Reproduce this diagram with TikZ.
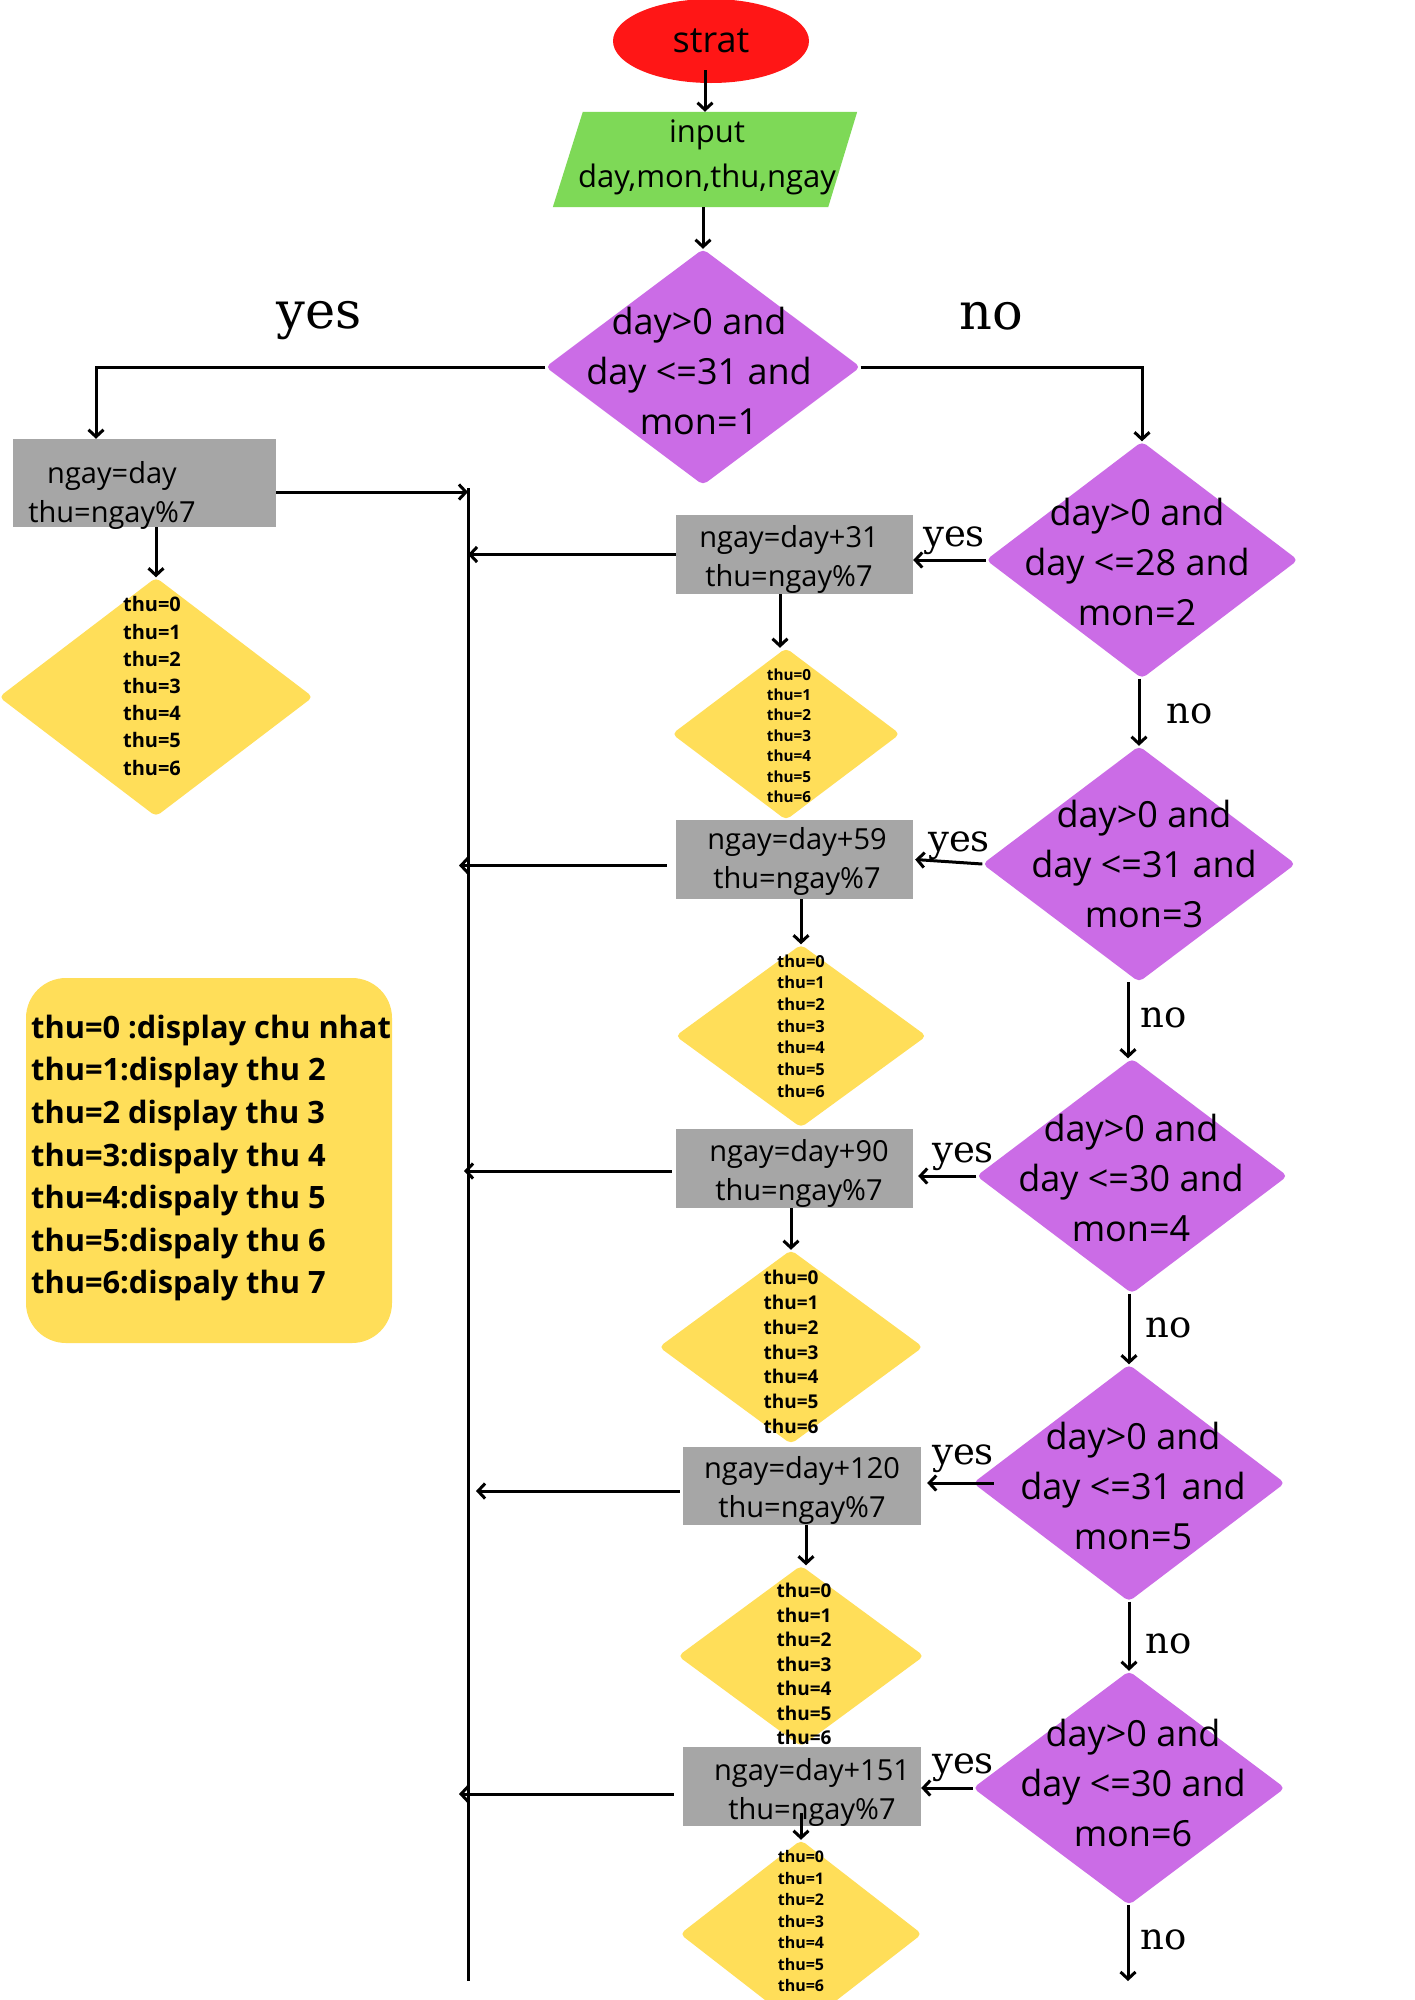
\documentclass[tikz,border=0pt]{standalone}
\usepackage{fontspec}
\setmainfont{Open Sans}
\newfontfamily\yesnofont{DejaVu Serif}
\usetikzlibrary{shapes.geometric,arrows.meta}
\definecolor{cred}{HTML}{FF1616}
\definecolor{cgreen}{HTML}{7ED957}
\definecolor{cpurple}{HTML}{CB6CE6}
\definecolor{cyellow}{HTML}{FFDE59}
\definecolor{cgray}{HTML}{A6A6A6}
\begin{document}
\begin{tikzpicture}[x=1pt,y=-1pt,
  ln/.style={line width=3pt},
  arr/.style={line width=3pt,-{Straight Barb[length=7pt,width=15pt]}},
  cond/.style={diamond,fill=cpurple,inner sep=0pt,rounded corners=5pt},
  dtext/.style={font=\fontsize{36}{50}\selectfont,align=center,inner sep=0pt,yshift=-0.5pt},
  proc/.style={rectangle,fill=cgray,inner sep=0pt},
  btext/.style={font=\fontsize{29}{39}\selectfont,align=center,inner sep=0pt,yshift=-3pt},
  ydia/.style={diamond,fill=cyellow,inner sep=0pt,rounded corners=5pt},
  ytext/.style n args={2}{font=\bfseries\fontsize{#1}{#2}\selectfont,align=center,inner sep=0pt},
  yn/.style={font=\yesnofont\fontsize{37}{40}\selectfont,inner sep=0pt},
  ynbig/.style={font=\yesnofont\fontsize{51}{55}\selectfont,inner sep=0pt}
]
\useasboundingbox[fill=white] (0,0) rectangle (1414,2000);
\newcommand\thulist{thu=0\\thu=1\\thu=2\\thu=3\\thu=4\\thu=5\\thu=6}

% start
\node[ellipse,fill=cred,minimum width=196pt,minimum height=84pt,inner sep=0pt,
      font=\fontsize{36}{40}\selectfont] (st) at (711,41) {strat};
% input
\node[rectangle,minimum width=304pt,minimum height=95pt,inner sep=0pt] (inp) at (705,159.5) {};
\fill[cgreen] ([xshift=30pt]inp.north west) -- (inp.north east) -- ([xshift=-29pt]inp.south east) -- (inp.south west) -- cycle;
\node[font=\fontsize{31}{45}\selectfont,align=center,inner sep=0pt] (inpt) at (707,157) {input\\day,mon,thu,ngay};

% decisions
\node[cond,minimum width=315pt,minimum height=236pt] (d1) at (703,367) {};
\node[dtext] (d1t) at (699,370) {day>0 and\\day <=31 and\\mon=1};
\node[cond,minimum width=312pt,minimum height=237pt] (d2) at (1142,560) {};
\node[dtext] (d2t) at (1137,561) {day>0 and\\day <=28 and\\mon=2};
\node[cond,minimum width=313pt,minimum height=236pt] (d3) at (1139,864) {};
\node[dtext] (d3t) at (1144,863) {day>0 and\\day <=31 and\\mon=3};
\node[cond,minimum width=311pt,minimum height=235pt] (d4) at (1132,1176) {};
\node[dtext] (d4t) at (1131,1177) {day>0 and\\day <=30 and\\mon=4};
\node[cond,minimum width=312pt,minimum height=237pt] (d5) at (1129,1483) {};
\node[dtext] (d5t) at (1133,1485) {day>0 and\\day <=31 and\\mon=5};
\node[cond,minimum width=312pt,minimum height=234pt] (d6) at (1129,1788) {};
\node[dtext] (d6t) at (1133,1782) {day>0 and\\day <=30 and\\mon=6};

% process boxes
\node[proc,minimum width=263pt,minimum height=88pt] (b0) at (144.5,483) {};
\node[btext] (b0t) at (112,492.5) {ngay=day\\thu=ngay\%7};
\node[proc,minimum width=237pt,minimum height=79pt] (b1) at (794.5,554.5) {};
\node[btext] (b1t) at (789,556.5) {ngay=day+31\\thu=ngay\%7};
\node[proc,minimum width=237pt,minimum height=79pt] (b2) at (794.5,859.5) {};
\node[btext] (b2t) at (797,858.5) {ngay=day+59\\thu=ngay\%7};
\node[proc,minimum width=237pt,minimum height=79pt] (b3) at (794.5,1168.5) {};
\node[btext] (b3t) at (799,1170) {ngay=day+90\\thu=ngay\%7};
\node[proc,minimum width=238pt,minimum height=78pt] (b4) at (802,1486) {};
\node[btext] (b4t) at (802,1487.5) {ngay=day+120\\thu=ngay\%7};
\node[proc,minimum width=238pt,minimum height=79pt] (b5) at (802,1786.5) {};

% yellow diamonds
\node[ydia,minimum width=314pt,minimum height=239pt] (y0) at (156,697) {};
\node[ytext={20}{27.2}] (y0t) at (152,686) {\thulist};
\node[ydia,minimum width=228pt,minimum height=172pt] (y1) at (786,734) {};
\node[ytext={15.3}{20.4}] (y1t) at (789,735.5) {\thulist};
\node[ydia,minimum width=251pt,minimum height=183pt] (y2) at (801,1036) {};
\node[ytext={16.5}{21.7}] (y2t) at (801,1026) {\thulist};
\node[ydia,minimum width=264pt,minimum height=194pt] (y3) at (791,1347) {};
\node[ytext={19}{24.8}] (y3t) at (791,1352) {\thulist};
\node[ydia,minimum width=246pt,minimum height=181pt] (y4) at (801,1656) {};
\node[ytext={19}{24.5}] (y4t) at (804,1664) {\thulist};
\node[ydia,minimum width=242pt,minimum height=188pt] (y5) at (801,1934) {};
\node[ytext={16}{21.5}] (y5t) at (801,1921) {\thulist};
% box 5 text drawn over the yellow diamond above it
\node[btext] (b5t) at (812,1789.5) {ngay=day+151\\thu=ngay\%7};

% legend
\fill[cyellow,rounded corners=40pt] (26,978) rectangle (392,1343);
\node[font=\bfseries\fontsize{30.8}{42.6}\selectfont,align=left,anchor=west,inner sep=0pt] (leg) at (31,1158)
  {thu=0 :display chu nhat\\thu=1:display thu 2\\thu=2 display thu 3\\thu=3:dispaly thu 4\\thu=4:dispaly thu 5\\thu=5:dispaly thu 6\\thu=6:dispaly thu 7};

% coordinates of the collecting line
\coordinate (vt) at (468,488);
\coordinate (vb) at (468,1981);
\coordinate (endno) at (1128,1981);

% connectors
\draw[arr] ([yshift=13pt]st.south -| inp.north) -- (inp.north);
\draw[arr] (d1.north |- inp.south) -- (d1.north);
\draw[arr] (d1.west) -| ([xshift=-48.5pt]b0.north);
\draw[arr] (d1.east) -| (d2.north);
\draw[arr] (y0.north |- b0.south) -- (y0.north);
\draw[ln] (vt) -- (vb);
\draw[arr] ([yshift=-9pt]b0.east) -- ([yshift=-9pt]b0.east -| vt);

\draw[arr] (d2.west) -- (b1.east |- d2.west);
\draw[arr] (b1.west) -- (b1.west -| vt);
\draw[arr] ([xshift=-6pt]y1.north |- b1.south) -- ([xshift=-6pt]y1.north);
\draw[arr] (d3.north |- d2.south) -- (d3.north);

\draw[arr] (d3.west) -- ([xshift=2pt]b2.east);
\draw[arr] ([shift={(-9,6)}]b2.west) -- ([shift={(-9,6)}]b2.west -| vt);
\draw[arr] (y2.north |- b2.south) -- (y2.north);
\draw[arr] ([xshift=-4pt]d4.north |- d3.south) -- ([xshift=-4pt]d4.north);

\draw[arr] (d4.west) -- ([xshift=5pt]b3.east |- d4.west);
\draw[arr] ([shift={(-4,2.5)}]b3.west) -- ([shift={(-4,2.5)}]b3.west -| vt);
\draw[arr] (y3.north |- b3.south) -- (y3.north);
\draw[arr] (d5.north |- d4.south) -- (d5.north);

\draw[arr] ([xshift=21pt]d5.west) -- ([xshift=6pt]b4.east |- d5.west);
\draw[arr] ([shift={(-3,5)}]b4.west) -- ([shift={(8,5)}]b4.west -| vt);
\draw[arr] ([xshift=5pt]y4.north |- b4.south) -- ([xshift=5pt]y4.north);
\draw[arr] (d6.north |- d5.south) -- (d6.north);

\draw[arr] (d6.west) -- (b5.east |- d6.west);
\draw[arr] ([shift={(-9,7.5)}]b5.west) -- ([shift={(-9,7.5)}]b5.west -| vt);
\draw[arr] ([yshift=13pt]b5.south -| y5.north) -- (y5.north);
\draw[arr] (endno |- d6.south) -- (endno);

% labels
\node[ynbig] (lyes0) at (319,321) {yes};
\node[ynbig] (lno0) at (991,316) {no};
\node[yn] (lyes1) at (954,541) {yes};
\node[yn] (lno1) at (1190,714) {no};
\node[yn] (lyes2) at (959,846) {yes};
\node[yn] (lno2) at (1164,1018) {no};
\node[yn] (lyes3) at (963,1157) {yes};
\node[yn] (lno3) at (1169,1328) {no};
\node[yn] (lyes4) at (963,1459) {yes};
\node[yn] (lno4) at (1169,1644) {no};
\node[yn] (lyes5) at (963,1768) {yes};
\node[yn] (lno5) at (1164,1940) {no};
\end{tikzpicture}
\end{document}
